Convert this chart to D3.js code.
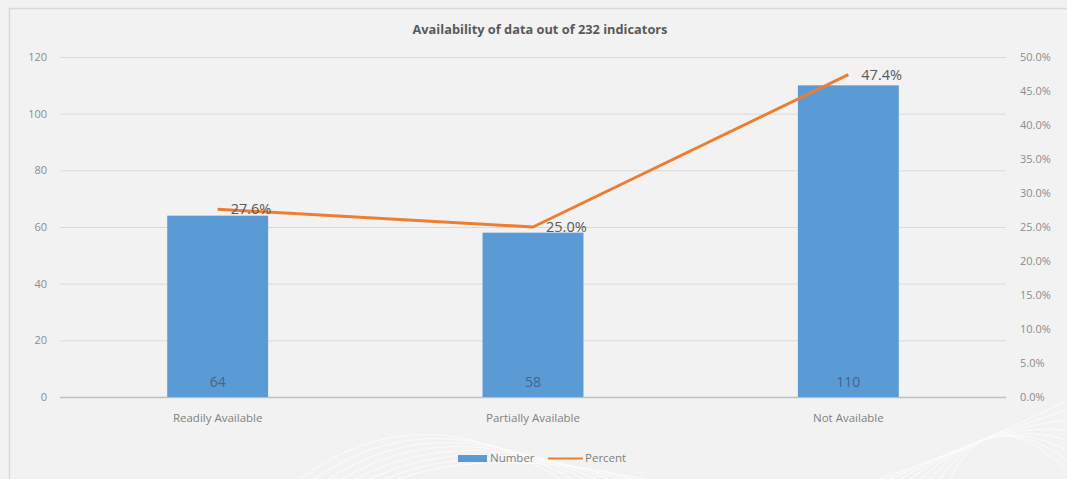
<!DOCTYPE html>
<html><head><meta charset="utf-8">
<script src="https://cdn.jsdelivr.net/npm/d3@7"></script>
<style>
html,body{margin:0;padding:0;background:#f2f2f2;}
svg{display:block;font-family:"Open Sans",Lato,sans-serif;}
</style></head>
<body><svg id="c" width="1067" height="479"></svg>
<script>
const categories = ["Readily Available","Partially Available","Not Available"];
const numbers = [64, 58, 110];
const percents = [27.6, 25.0, 47.4];
const leftTicks = [0,20,40,60,80,100,120];
const rightTicks = [0,5,10,15,20,25,30,35,40,45,50];
const title = "Availability of data out of 232 indicators";
const seriesNames = ["Number","Percent"];

const FONT = "'Open Sans',Lato,sans-serif";
const svg = d3.select("#c");
svg.append("rect").attr("width",1067).attr("height",479).attr("fill","#f2f2f2");
// faint decorative curves
const deco = svg.append("g").attr("fill","none").attr("stroke","#ffffff").attr("stroke-width",1).attr("opacity",0.8);
for (let i=0;i<8;i++){
  deco.append("path").attr("d",`M${300+i*14},479 Q${420+i*10},${390+i*8} ${560+i*12},${479}`);
  deco.append("path").attr("d",`M${880+i*10},479 Q${990},${440-i*6} ${1067},${400+i*10}`);
}
// frame
svg.append("path").attr("d","M9.5,479 L9.5,8.5 L1067,8.5").attr("fill","none").attr("stroke","#d9d9d9").attr("stroke-width",1.5);

const L=60, R=1006, T=57, B=397;
const x = d3.scaleBand().domain(categories).range([L,R]).paddingInner(0.68).paddingOuter(0.34);
const y = d3.scaleLinear().domain([0,120]).range([B,T]);
const y2 = d3.scaleLinear().domain([0,50]).range([B,T]);

svg.append("text").attr("x",540).attr("y",34).attr("text-anchor","middle")
  .attr("font-size",12.8).attr("font-weight","bold").attr("fill","#595959").text(title);

// grid
svg.append("g").selectAll("line").data(leftTicks).join("line")
  .attr("x1",L).attr("x2",R).attr("y1",d=>y(d)+0.5).attr("y2",d=>y(d)+0.5)
  .attr("stroke",d=>d===0?"#bfbfbf":"#d9d9d9").attr("stroke-width",d=>d===0?1.5:1);

// left axis
const ax = d3.axisLeft(y).tickValues(leftTicks).tickSize(0).tickPadding(0);
const gL = svg.append("g").attr("transform",`translate(47,0)`).call(ax);
gL.select(".domain").remove();
gL.selectAll("text").attr("font-size",11).attr("fill","#8c8c8c").attr("font-family",FONT);

const ax2 = d3.axisRight(y2).tickValues(rightTicks).tickSize(0).tickPadding(0).tickFormat(d=>d.toFixed(1)+"%");
const gR = svg.append("g").attr("transform",`translate(1020,0)`).call(ax2);
gR.select(".domain").remove();
gR.selectAll("text").attr("font-size",11).attr("fill","#8c8c8c").attr("font-family",FONT);

// bottom axis labels
const axB = d3.axisBottom(x).tickSize(0).tickPadding(0);
const gB = svg.append("g").attr("transform",`translate(0,414)`).call(axB);
gB.select(".domain").remove();
gB.selectAll("text").attr("font-size",11.5).attr("fill","#7f7f7f").attr("font-family",FONT);

// bars
svg.append("g").selectAll("rect").data(numbers).join("rect")
  .attr("x",(d,i)=>x(categories[i])).attr("width",x.bandwidth())
  .attr("y",d=>y(d)).attr("height",d=>B-y(d)).attr("fill","#5b9bd5");
svg.append("g").selectAll("text").data(numbers).join("text")
  .attr("x",(d,i)=>x(categories[i])+x.bandwidth()/2).attr("y",B-10)
  .attr("text-anchor","middle").attr("font-size",14).attr("fill","#44648c").text(d=>d);

// line
const cx = i => x(categories[i])+x.bandwidth()/2;
svg.append("path").datum(percents)
  .attr("d",d3.line().x((d,i)=>cx(i)).y(d=>y2(d)))
  .attr("fill","none").attr("stroke","#ed7d31").attr("stroke-width",3).attr("stroke-linejoin","round");
svg.append("g").selectAll("text").data(percents).join("text")
  .attr("x",(d,i)=>cx(i)+13).attr("y",d=>y2(d)+5)
  .attr("font-size",14.5).attr("fill","#595959").text(d=>d.toFixed(1)+"%");

// legend
const lg = svg.append("g");
lg.append("rect").attr("x",458).attr("y",455).attr("width",29).attr("height",7).attr("fill","#5b9bd5");
lg.append("text").attr("x",490).attr("y",462).attr("font-size",11.5).attr("fill","#7f7f7f").text(seriesNames[0]);
lg.append("line").attr("x1",548).attr("x2",583).attr("y1",458.5).attr("y2",458.5).attr("stroke","#ed7d31").attr("stroke-width",2);
lg.append("text").attr("x",585).attr("y",462).attr("font-size",11.5).attr("fill","#7f7f7f").text(seriesNames[1]);
</script></body></html>
